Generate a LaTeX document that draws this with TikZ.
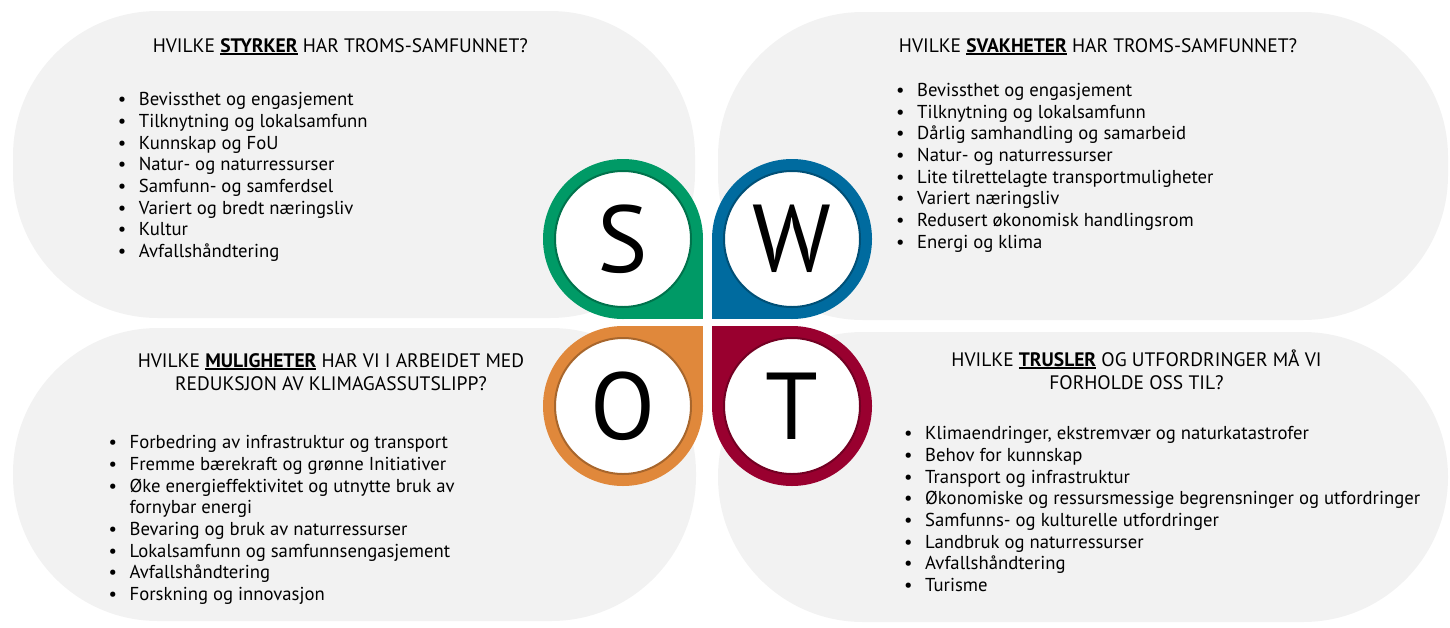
\documentclass[tikz,border=0pt]{standalone}
\usepackage{fontspec}
\setmainfont{PT Sans}

\definecolor{swotgreen}{HTML}{009A66}
\definecolor{swotblue}{HTML}{006B9F}
\definecolor{swotorange}{HTML}{E0883B}
\definecolor{swotred}{HTML}{99002F}
\definecolor{panelgray}{HTML}{F2F2F2}

\newsavebox{\keybox}
\newcommand{\keyword}[1]{\sbox{\keybox}{\textbf{#1}}\rlap{\rule[-2.6pt]{\wd\keybox}{1.7pt}}\usebox{\keybox}}
\newcommand{\itm}[1]{\makebox[21pt][l]{\textbullet}#1}
\newcommand{\itmcont}[1]{\hspace*{21pt}#1}

\begin{document}
\begin{tikzpicture}[
		x=1pt, y=-1pt,
		panel/.style = {
			fill=panelgray,
			rounded corners=145pt
		},
		heading/.style = {
			anchor=north,
			align=center,
			inner sep=0pt,
			font=\fontsize{19.5}{23.3}\selectfont
		},
		items/.style = {
			anchor=north west,
			align=left,
			inner sep=0pt,
			font=\fontsize{18.7}{21.67}\selectfont
		},
		badge/.style = {
			circle,
			fill=white,
			draw=#1!75!black,
			line width=2pt,
			minimum size=136pt,
			inner sep=0pt,
			font=\fontsize{95}{95}\selectfont
		}
	]
	\useasboundingbox (0,0) rectangle (1450,627);

	% the four panels
	\fill[panel] (13,11) rectangle (695,318);
	\fill[panel] (718,12) rectangle (1448,320);
	\fill[panel] (13,328) rectangle (696,621);
	\fill[panel] (718,332) rectangle (1448,622);

	% headings
	\node[heading] (headS) at (340.3,38) {HVILKE \keyword{STYRKER} HAR TROMS-SAMFUNNET?};
	\node[heading] (headW) at (1098,38) {HVILKE \keyword{SVAKHETER} HAR TROMS-SAMFUNNET?};
	\node[heading] (headO) at (331,353.3) {HVILKE \keyword{MULIGHETER} HAR VI I ARBEIDET MED\\REDUKSJON AV KLIMAGASSUTSLIPP?};
	\node[heading] (headT) at (1136.5,349.5) {HVILKE \keyword{TRUSLER} OG UTFORDRINGER MÅ VI\\FORHOLDE OSS TIL?};

	% lists
	\node[items] (listS) at (117.7,92.5) {
		\itm{Bevissthet og engasjement}\\
		\itm{Tilknytning og lokalsamfunn}\\
		\itm{Kunnskap og FoU}\\
		\itm{Natur- og naturressurser}\\
		\itm{Samfunn- og samferdsel}\\
		\itm{Variert og bredt næringsliv}\\
		\itm{Kultur}\\
		\itm{Avfallshåndtering}
	};
	\node[items] (listW) at (896,83.2) {
		\itm{Bevissthet og engasjement}\\
		\itm{Tilknytning og lokalsamfunn}\\
		\itm{Dårlig samhandling og samarbeid}\\
		\itm{Natur- og naturressurser}\\
		\itm{Lite tilrettelagte transportmuligheter}\\
		\itm{Variert næringsliv}\\
		\itm{Redusert økonomisk handlingsrom}\\
		\itm{Energi og klima}
	};
	\node[items] (listO) at (108.5,435.5) {
		\itm{Forbedring av infrastruktur og transport}\\
		\itm{Fremme bærekraft og grønne Initiativer}\\
		\itm{Øke energieffektivitet og utnytte bruk av}\\
		\itmcont{fornybar energi}\\
		\itm{Bevaring og bruk av naturressurser}\\
		\itm{Lokalsamfunn og samfunnsengasjement}\\
		\itm{Avfallshåndtering}\\
		\itm{Forskning og innovasjon}
	};
	\node[items] (listT) at (904,426.5) {
		\itm{Klimaendringer, ekstremvær og naturkatastrofer}\\
		\itm{Behov for kunnskap}\\
		\itm{Transport og infrastruktur}\\
		\itm{Økonomiske og ressursmessige begrensninger og utfordringer}\\
		\itm{Samfunns- og kulturelle utfordringer}\\
		\itm{Landbruk og naturressurser}\\
		\itm{Avfallshåndtering}\\
		\itm{Turisme}
	};

	% SWOT badges
	\fill[swotgreen] (623,239) circle[radius=80pt];
	\fill[swotgreen] (623,239) rectangle (703,319);
	\node[badge=swotgreen] (S) at (623,239) {S};

	\fill[swotblue] (792,239) circle[radius=80pt];
	\fill[swotblue] (712,239) rectangle (792,319);
	\node[badge=swotblue] (W) at (792,239) {W};

	\fill[swotorange] (623,406) circle[radius=80pt];
	\fill[swotorange] (623,326) rectangle (703,406);
	\node[badge=swotorange] (O) at (623,406) {O};

	\fill[swotred] (792,406) circle[radius=80pt];
	\fill[swotred] (712,326) rectangle (792,406);
	\node[badge=swotred] (T) at (792,406) {T};
\end{tikzpicture}
\end{document}
